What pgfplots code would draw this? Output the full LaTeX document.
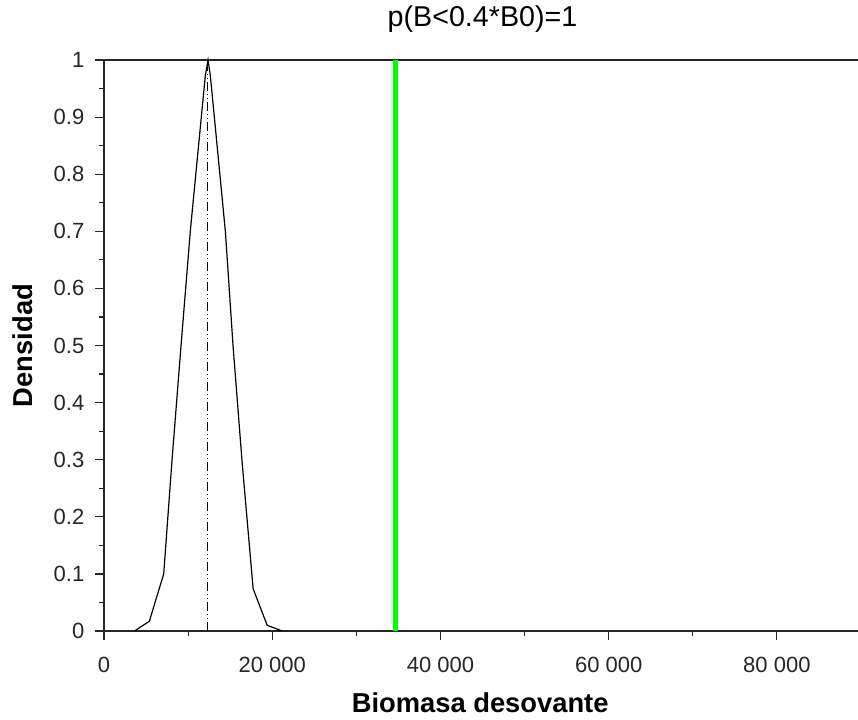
\documentclass[border=0pt]{standalone}
\usepackage{fontspec}
\setmainfont{Liberation Sans}
\usepackage{pgfplots}
\pgfplotsset{compat=1.18}
\definecolor{pgreen}{RGB}{0,255,0}
\begin{document}
\begin{tikzpicture}
\begin{axis}[
  at={(0pt,0pt)}, anchor=south west,
  scale only axis, width=567.75pt, height=428.25pt,
  xmin=0, xmax=90000, ymin=0, ymax=1,
  axis line style={line width=1.1pt, black!85},
  tick pos=left, tick align=outside,
  major tick length=6.75pt, minor tick length=3.4pt,
  every tick/.style={black!85, line width=0.9pt},
  xtick={0,20000,40000,60000,80000},
  minor xtick={10000,30000,50000,70000},
  ytick={0,0.1,0.2,0.3,0.4,0.5,0.6,0.7,0.8,0.9,1},
  minor ytick={0.05,0.15,0.25,0.35,0.45,0.55,0.65,0.75,0.85,0.95},
  scaled x ticks=false,
  /pgf/number format/assume math mode=true,
  xticklabel style={/pgf/number format/1000 sep={\ }, font=\fontsize{16.5}{19}\selectfont, yshift=-9.5pt, text=black!85},
  yticklabel style={/pgf/number format/fixed, font=\fontsize{16.5}{19}\selectfont, xshift=-4.5pt, text=black!85},
  title={p(B<0.4*B0)=1},
  title style={at={(0.5,1.0438)}, anchor=base, font=\fontsize{21.5}{25}\selectfont},
  xlabel={Biomasa desovante},
  xlabel style={at={(0.497,-0.1419)}, anchor=base, font=\bfseries\fontsize{20.5}{24}\selectfont},
  ylabel={Densidad},
  ylabel style={at={(-0.0938,0.5)}, anchor=base, font=\bfseries\fontsize{20.5}{24}\selectfont},
  clip=false,
]
\addplot[black, line width=0.9pt] coordinates {
 (3620,0) (5390,0.017) (7100,0.10) (8070,0.296) (9150,0.498) (10260,0.70)
 (11570,0.90) (12050,0.973) (12370,1.0) (12640,0.973) (13120,0.90)
 (14430,0.70) (15350,0.498) (16420,0.296) (17730,0.074) (19400,0.01) (21190,0)
};
\addplot[black, line width=0.7pt, dash pattern=on 7pt off 2pt on 1pt off 2pt on 1pt off 2pt] coordinates {(12300,0) (12300,1)};
\addplot[pgreen, line width=3.6pt] coordinates {(34700,0) (34700,1)};
\end{axis}
\pgfresetboundingbox
\path (-78pt,-66pt) rectangle (565.5pt,473.25pt);
\end{tikzpicture}
\end{document}
